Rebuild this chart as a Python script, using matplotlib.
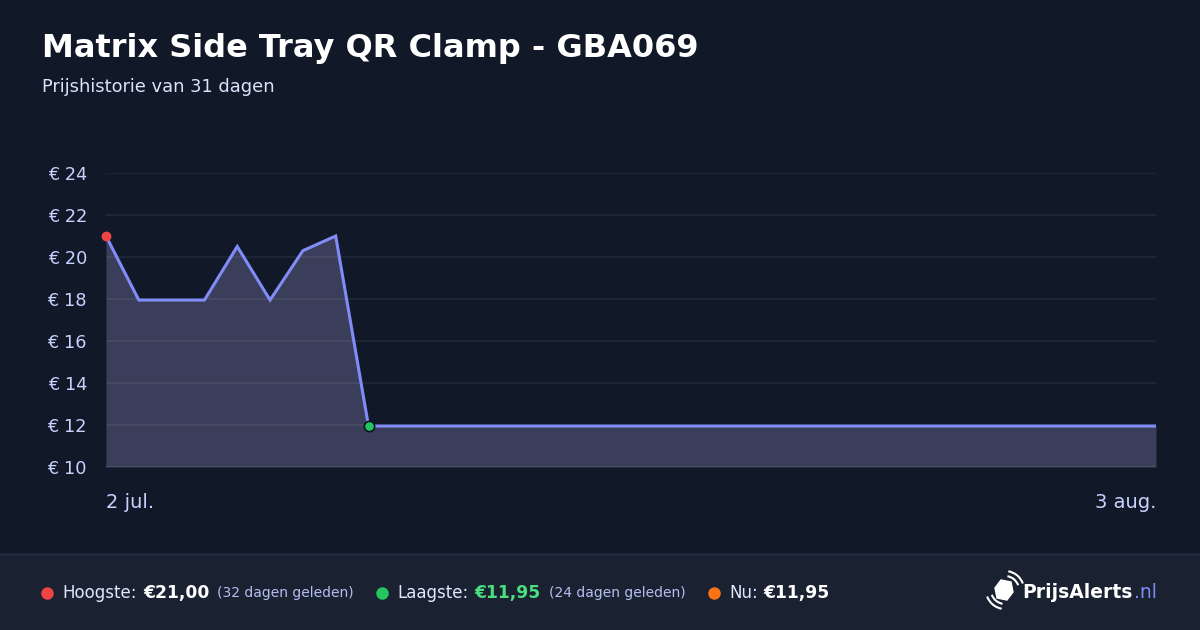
import numpy as np
import matplotlib.pyplot as plt
from matplotlib.patches import Polygon, Arc, Rectangle
from matplotlib.lines import Line2D

title = 'Matrix Side Tray QR Clamp - GBA069'
subtitle = 'Prijshistorie van 31 dagen'

# daily prices, 2 jul. .. 3 aug.
prices = [21.00, 17.95, 17.95, 17.95, 20.50, 17.95, 20.30, 21.00] + [11.95] * 25
days = np.arange(len(prices))
date_labels = ['2 jul.', '3 aug.']
y_ticks = [10, 12, 14, 16, 18, 20, 22, 24]

high_idx = 0
low_idx = 8

BG = '#111827'
FOOT = '#1a2131'
LINE = '#818cf8'
TICK = '#c7d2fe'

W, H = 1200, 630
fig = plt.figure(figsize=(12, 6.3), dpi=100, facecolor=BG)

def fx(px):
    return px / W

def fy(py):
    return 1 - py / H

# title block
fig.text(fx(42), fy(48), title, color='white', fontsize=23, fontweight='bold', va='center')
fig.text(fx(42), fy(87), subtitle, color='#dbe2fb', fontsize=12.9, va='center')

# chart
ax = fig.add_axes([fx(106), fy(467), fx(1156) - fx(106), fy(173) - fy(467)])
ax.set_facecolor(BG)
ax.set_xlim(0, len(prices) - 1)
ax.set_ylim(10, 24)
ax.fill_between(days, prices, 10, color='#3a3e5a', zorder=1, linewidth=0)
for v in y_ticks[1:]:
    ax.axhline(v, color=(1, 1, 1, 0.06), lw=1.5, zorder=2)
ax.axhline(10, color='#4b5166', lw=1.5, zorder=2)
ax.plot(days, prices, color=LINE, lw=2.2, zorder=3, solid_joinstyle='miter')
ax.scatter([days[high_idx]], [prices[high_idx]], s=50, color='#ef4444', zorder=4, clip_on=False, linewidths=0)
ax.scatter([days[low_idx]], [prices[low_idx]], s=55, color='#22c55e', edgecolors='#0b1220', linewidths=1.2, zorder=4, clip_on=False)

for s in ax.spines.values():
    s.set_visible(False)
ax.set_yticks(y_ticks)
ax.set_yticklabels(['€ %d' % v for v in y_ticks])
ax.tick_params(axis='y', length=0, pad=13.7, labelsize=12.8, labelcolor=TICK)
ax.set_xticks([0, len(prices) - 1])
ax.set_xticklabels(date_labels)
ax.tick_params(axis='x', length=0, pad=19, labelsize=14, labelcolor=TICK)
xl = ax.get_xticklabels()
xl[0].set_ha('left')
xl[1].set_ha('right')

# footer band
fig.patches.append(Rectangle((0, 0), 1, fy(554), transform=fig.transFigure, color=FOOT, zorder=0))
fig.lines.append(Line2D([0, 1], [fy(554), fy(554)], transform=fig.transFigure, color='#27304a', lw=1))

fy_text = fy(593)

def dot(px, color):
    fig.lines.append(Line2D([fx(px)], [fy_text], transform=fig.transFigure, marker='o', ms=9,
                            color=color, markeredgewidth=0))

dot(47, '#ef4444')
fig.text(fx(62), fy_text, 'Hoogste:', color='#e0e7ff', fontsize=12, va='center')
fig.text(fx(143), fy_text, '€21,00', color='white', fontsize=12.3, fontweight='bold', va='center')
fig.text(fx(217), fy_text, '(32 dagen geleden)', color='#b4bff0', fontsize=10, va='center')

dot(382, '#22c55e')
fig.text(fx(397), fy_text, 'Laagste:', color='#e0e7ff', fontsize=12, va='center')
fig.text(fx(474), fy_text, '€11,95', color='#4ade80', fontsize=12.3, fontweight='bold', va='center')
fig.text(fx(549), fy_text, '(24 dagen geleden)', color='#b4bff0', fontsize=10, va='center')

dot(714, '#f97316')
fig.text(fx(729), fy_text, 'Nu:', color='#e0e7ff', fontsize=12, va='center')
fig.text(fx(763), fy_text, '€11,95', color='white', fontsize=12.3, fontweight='bold', va='center')

# logo
lx, ly = 1005, 590
tag = np.array([[-8, 8], [-10, -2], [-4, -10], [6, -8], [8, 2], [2, 10]], dtype=float)
tag[:, 0] += lx
tag[:, 1] += ly
fig.patches.append(Polygon([(fx(a), fy(b)) for a, b in tag], closed=True, transform=fig.transFigure,
                           color='white', zorder=3))
for r in (14, 19):
    fig.patches.append(Arc((lx, H - ly), 2 * r, 2 * r, theta1=20, theta2=80, color='white', lw=1.5,
                           transform=None, zorder=3))
    fig.patches.append(Arc((lx, H - ly), 2 * r, 2 * r, theta1=200, theta2=260, color='white', lw=1.5,
                           transform=None, zorder=3))
fig.text(fx(1022), fy_text, 'PrijsAlerts', color='white', fontsize=13.5, fontweight='bold', va='center')
fig.text(fx(1134), fy_text, '.nl', color='#818cf8', fontsize=13.5, va='center')

fig.savefig('out.png', dpi=100, facecolor=BG)
